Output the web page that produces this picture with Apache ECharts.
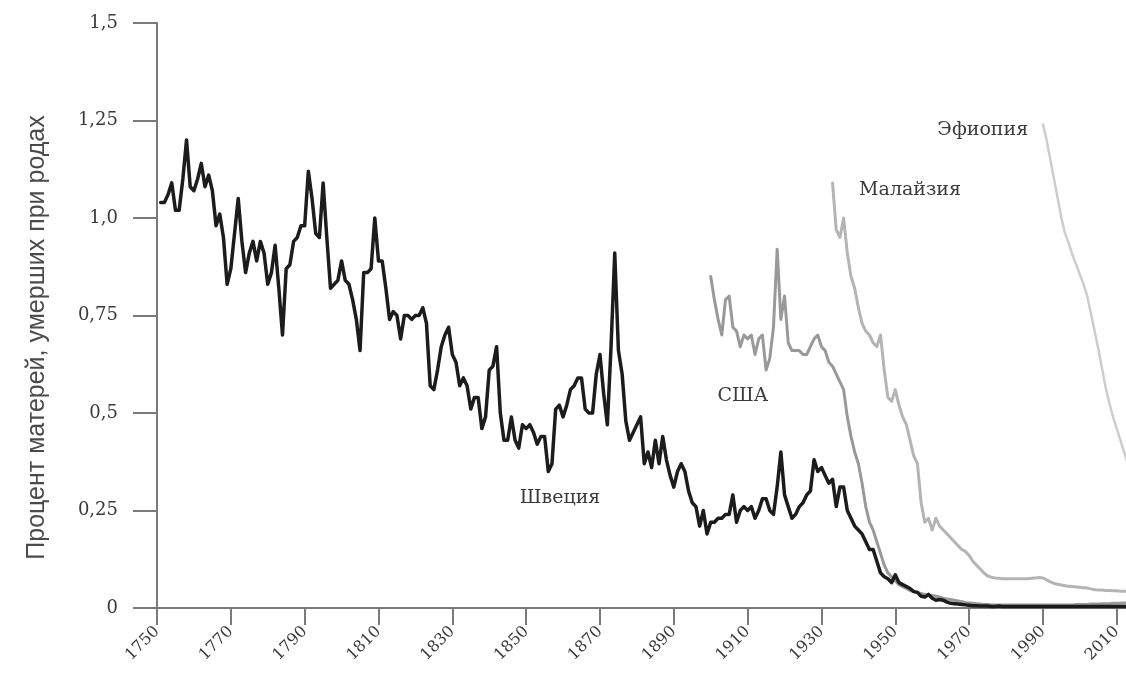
<!DOCTYPE html>
<html>
<head>
<meta charset="utf-8">
<script src="https://cdn.jsdelivr.net/npm/echarts@6/dist/echarts.min.js"></script>
<style>
html,body{margin:0;padding:0;background:#fff;}
#chart{width:1126px;height:675px;}
</style>
</head>
<body>
<div id="chart"></div>
<script>
// ---- data ----
const xTickYears = [1750,1770,1790,1810,1830,1850,1870,1890,1910,1930,1950,1970,1990,2010];
const yTicks = [0,0.25,0.5,0.75,1,1.25,1.5];

const swedenStart = 1751;
const swedenValues = [
 1.04,1.04,1.06,1.09,1.02,1.02,1.10,1.20,1.08,1.07, // 1751-1760
 1.10,1.14,1.08,1.11,1.07,0.98,1.01,0.95,0.83,0.87, // 1761-1770
 0.96,1.05,0.94,0.86,0.91,0.94,0.89,0.94,0.91,0.83, // 1771-1780
 0.86,0.93,0.82,0.70,0.87,0.88,0.94,0.95,0.98,0.98, // 1781-1790
 1.12,1.05,0.96,0.95,1.09,0.95,0.82,0.83,0.84,0.89, // 1791-1800
 0.84,0.83,0.79,0.74,0.66,0.86,0.86,0.87,1.00,0.89, // 1801-1810
 0.89,0.82,0.74,0.76,0.75,0.69,0.75,0.75,0.74,0.75, // 1811-1820
 0.75,0.77,0.73,0.57,0.56,0.61,0.67,0.70,0.72,0.65, // 1821-1830
 0.63,0.57,0.59,0.57,0.51,0.54,0.54,0.46,0.49,0.61, // 1831-1840
 0.62,0.67,0.50,0.43,0.43,0.49,0.43,0.41,0.47,0.46, // 1841-1850
 0.47,0.45,0.42,0.44,0.44,0.35,0.37,0.51,0.52,0.49, // 1851-1860
 0.52,0.56,0.57,0.59,0.59,0.51,0.50,0.50,0.60,0.65, // 1861-1870
 0.55,0.47,0.67,0.91,0.66,0.60,0.48,0.43,0.45,0.47, // 1871-1880
 0.49,0.37,0.40,0.36,0.43,0.37,0.44,0.38,0.34,0.31, // 1881-1890
 0.35,0.37,0.35,0.30,0.27,0.26,0.21,0.25,0.19,0.22, // 1891-1900
 0.22,0.23,0.23,0.24,0.24,0.29,0.22,0.25,0.26,0.25, // 1901-1910
 0.26,0.23,0.25,0.28,0.28,0.25,0.24,0.31,0.40,0.29, // 1911-1920
 0.26,0.23,0.24,0.26,0.27,0.29,0.30,0.38,0.35,0.36, // 1921-1930
 0.34,0.32,0.33,0.26,0.31,0.31,0.25,0.23,0.21,0.20, // 1931-1940
 0.19,0.17,0.15,0.15,0.12,0.09,0.08,0.075,0.065,0.085, // 1941-1950
 0.065,0.06,0.055,0.05,0.042,0.04,0.03,0.028,0.035,0.025, // 1951-1960
 0.02,0.022,0.02,0.015,0.012,0.011,0.01,0.009,0.008,0.007, // 1961-1970
 0.006,0.006,0.005,0.005,0.005,0.004,0.004,0.005,0.004,0.004, // 1971-1980
 0.004,0.004,0.004,0.004,0.004,0.004,0.004,0.004,0.004,0.004, // 1981-1990
 0.004,0.004,0.004,0.004,0.004,0.004,0.004,0.004,0.004,0.004, // 1991-2000
 0.004,0.004,0.004,0.004,0.004,0.004,0.004,0.004,0.004,0.004, // 2001-2010
 0.004,0.004,0.004 // 2011-2013
];

const usaStart = 1900;
const usaValues = [
 0.85,0.79,0.74,0.70,0.79,0.80,0.72,0.71,0.67,0.70, // 1900-1909
 0.69,0.70,0.65,0.69,0.70,0.61,0.64,0.72,0.92,0.74, // 1910-1919
 0.80,0.68,0.66,0.66,0.66,0.65,0.65,0.67,0.69,0.70, // 1920-1929
 0.67,0.66,0.63,0.62,0.60,0.58,0.56,0.49,0.44,0.40, // 1930-1939
 0.37,0.32,0.26,0.22,0.20,0.17,0.14,0.11,0.09,0.08, // 1940-1949
 0.07,0.06,0.055,0.05,0.045,0.042,0.04,0.037,0.035,0.033, // 1950-1959
 0.032,0.03,0.028,0.025,0.023,0.022,0.02,0.018,0.016,0.014, // 1960-1969
 0.013,0.012,0.011,0.01,0.009,0.009,0.008,0.008,0.008,0.008, // 1970-1979
 0.008,0.008,0.008,0.008,0.008,0.008,0.008,0.008,0.008,0.008, // 1980-1989
 0.008,0.008,0.008,0.008,0.008,0.008,0.008,0.008,0.008,0.009, // 1990-1999
 0.009,0.009,0.009,0.01,0.01,0.01,0.011,0.011,0.011,0.012, // 2000-2009
 0.012,0.012,0.013,0.013 // 2010-2013
];

const malaysiaStart = 1933;
const malaysiaValues = [
 1.09,0.97,0.95,1.00,0.91,0.85,0.82,0.77,0.73,0.71, // 1933-1942
 0.70,0.68,0.67,0.70,0.61,0.54,0.53,0.56,0.52,0.49, // 1943-1952
 0.47,0.43,0.39,0.37,0.27,0.22,0.23,0.20,0.23,0.21, // 1953-1962
 0.20,0.19,0.18,0.17,0.16,0.15,0.145,0.135,0.12,0.11, // 1963-1972
 0.10,0.09,0.082,0.079,0.077,0.076,0.075,0.075,0.075,0.075, // 1973-1982
 0.075,0.075,0.075,0.075,0.076,0.077,0.078,0.077,0.072,0.067, // 1983-1992
 0.063,0.061,0.059,0.057,0.056,0.055,0.054,0.053,0.052,0.051, // 1993-2002
 0.049,0.047,0.046,0.046,0.045,0.045,0.044,0.044,0.043,0.043, // 2003-2012
 0.043 // 2013
];

const ethiopiaStart = 1990;
const ethiopiaValues = [
 1.24,1.20,1.15,1.10,1.05,1.00,0.96,0.935,0.905,0.88, // 1990-1999
 0.855,0.83,0.80,0.755,0.71,0.665,0.615,0.565,0.525,0.49, // 2000-2009
 0.46,0.43,0.40,0.37 // 2010-2013
];

const labelCoords = {
  'Швеция': [1859.2, 0.282],
  'США': [1908.7, 0.544],
  'Малайзия': [1954, 1.072],
  'Эфиопия': [1973.7, 1.226]
};
const yAxisTitle = 'Процент матерей, умерших при родах';

// ---- build ----
function toPairs(start, vals){ return vals.map((v,i)=>[start+i, v]); }

const serifFont = "'DejaVu Serif', 'Liberation Serif', serif";

function lineSeries(name, start, vals, color, width, z){
  return {
    name: name, type: 'line', data: toPairs(start, vals),
    showSymbol: false, symbol: 'none', z: z,
    lineStyle: {color: color, width: width, join: 'round', cap: 'round'},
    emphasis: {disabled: true},
    markPoint: {
      symbol: 'circle', symbolSize: 0, silent: true,
      label: {show: true, position: 'inside', formatter: name,
        fontFamily: serifFont, fontSize: 19, color: '#3a3a3a'},
      data: [{coord: labelCoords[name]}]
    }
  };
}

const chart = echarts.init(document.getElementById('chart'), null, {renderer: 'canvas'});
const fmtY = v => {
  if (v === 0) return '0';
  const s = (Math.round(v*100) % 50 === 0) ? v.toFixed(1) : v.toFixed(2);
  return s.replace('.', ',');
};
chart.setOption({
  animation: false,
  backgroundColor: '#fff',
  grid: {left: 157, right: 0, top: 23, bottom: 67, containLabel: false},
  xAxis: {
    type: 'value', min: 1750, max: 2012.5,
    axisLine: {show: true, lineStyle: {color: '#7a7a7a', width: 2}},
    axisTick: {show: true, length: 17, lineStyle: {color: '#7a7a7a', width: 2}, customValues: xTickYears},
    axisLabel: {show: true, rotate: 45, margin: 21, customValues: xTickYears,
      formatter: v => String(v),
      fontFamily: serifFont, fontSize: 16, color: '#3a3a3a'},
    splitLine: {show: false}
  },
  yAxis: {
    type: 'value', min: 0, max: 1.5, interval: 0.25,
    name: yAxisTitle, nameLocation: 'middle', nameRotate: 90, nameGap: 107,
    nameTextStyle: {fontFamily: "'Liberation Sans Narrow', 'Liberation Sans', sans-serif", fontSize: 25, color: '#4a4a4a', padding: [0, 44, 0, 0]},
    axisLine: {show: true, lineStyle: {color: '#7a7a7a', width: 2}},
    axisTick: {show: true, length: 24, lineStyle: {color: '#7a7a7a', width: 2}},
    axisLabel: {show: true, margin: 39, formatter: fmtY,
      fontFamily: serifFont, fontSize: 18, color: '#3a3a3a'},
    splitLine: {show: false}
  },
  series: [
    lineSeries('Эфиопия', ethiopiaStart, ethiopiaValues, '#cdcdcd', 2.5, 1),
    lineSeries('Малайзия', malaysiaStart, malaysiaValues, '#b4b4b4', 3, 2),
    lineSeries('США', usaStart, usaValues, '#999999', 3, 3),
    lineSeries('Швеция', swedenStart, swedenValues, '#1c1c1c', 3.5, 4)
  ]
});
</script>
</body>
</html>
